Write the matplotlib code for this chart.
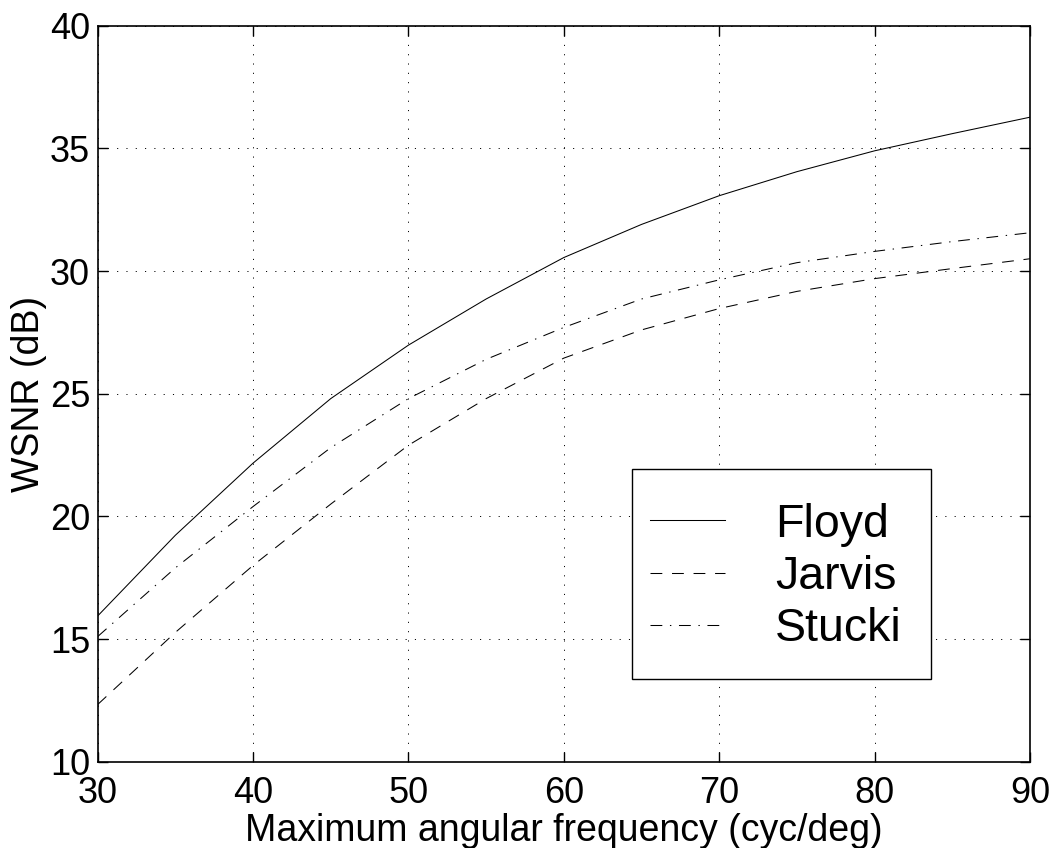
import matplotlib

matplotlib.use("Agg")
import matplotlib.pyplot as plt
from matplotlib.patches import Rectangle

freq = [30, 35, 40, 45, 50, 55, 60, 65, 70, 75, 80, 85, 90]
floyd = [15.94, 19.23, 22.17, 24.8, 26.98, 28.86, 30.55, 31.9, 33.07, 34.05, 34.9, 35.6, 36.27]
jarvis = [12.33, 15.27, 18.0, 20.5, 22.9, 24.8, 26.45, 27.6, 28.47, 29.17, 29.69, 30.1, 30.5]
stucki = [15.1, 17.9, 20.4, 22.8, 24.8, 26.4, 27.7, 28.86, 29.64, 30.34, 30.8, 31.2, 31.56]

x_ticks = [30, 40, 50, 60, 70, 80, 90]
y_ticks = [10, 15, 20, 25, 30, 35, 40]

plt.rcParams["font.family"] = ["Liberation Sans", "DejaVu Sans"]
plt.rcParams["lines.scale_dashes"] = False


def main() -> None:
    fig = plt.figure(figsize=(10.55, 8.48), dpi=100)
    ax = fig.add_axes([0.0926, 0.1018, 0.8837, 0.8679])

    ax.plot(freq, floyd, color="black", linewidth=0.75, label="Floyd")
    ax.plot(freq, jarvis, color="black", linewidth=0.75, dashes=(8.5, 7), label="Jarvis")
    ax.plot(freq, stucki, color="black", linewidth=0.75, dashes=(8.5, 5.5, 1, 5.5), label="Stucki")

    ax.set_xlim(30, 90)
    ax.set_ylim(10, 40)
    ax.set_xticks(x_ticks)
    ax.set_yticks(y_ticks)
    ax.tick_params(direction="in", length=7, width=1.0, labelsize=26, top=True, right=True)
    ax.tick_params(axis="x", pad=10.5)
    ax.tick_params(axis="y", pad=5.5)
    ax.grid(True, color="black", linestyle=(0, (0.8, 5.9)), linewidth=0.7)
    for s in ax.spines.values():
        s.set_linewidth(1.2)

    ax.set_xlabel("Maximum angular frequency (cyc/deg)", fontsize=27, labelpad=1)
    ax.set_ylabel("WSNR (dB)", fontsize=27, labelpad=2.2)

    # MATLAB-style legend box, drawn separately for its wide padding
    ax.add_patch(
        Rectangle(
            (0.5731, 0.1124), 0.3207, 0.2853,
            transform=ax.transAxes, facecolor="white", edgecolor="black", linewidth=1.0, zorder=4,
        )
    )
    leg = ax.legend(
        loc="upper left",
        bbox_to_anchor=(0.5924, 0.352),
        borderaxespad=0,
        borderpad=0,
        fontsize=33.5,
        handlelength=1.61,
        handletextpad=1.08,
        labelspacing=0.18,
        frameon=False,
    )
    leg.set_zorder(5)

    fig.savefig("out.png", dpi=100)


if __name__ == "__main__":
    main()
